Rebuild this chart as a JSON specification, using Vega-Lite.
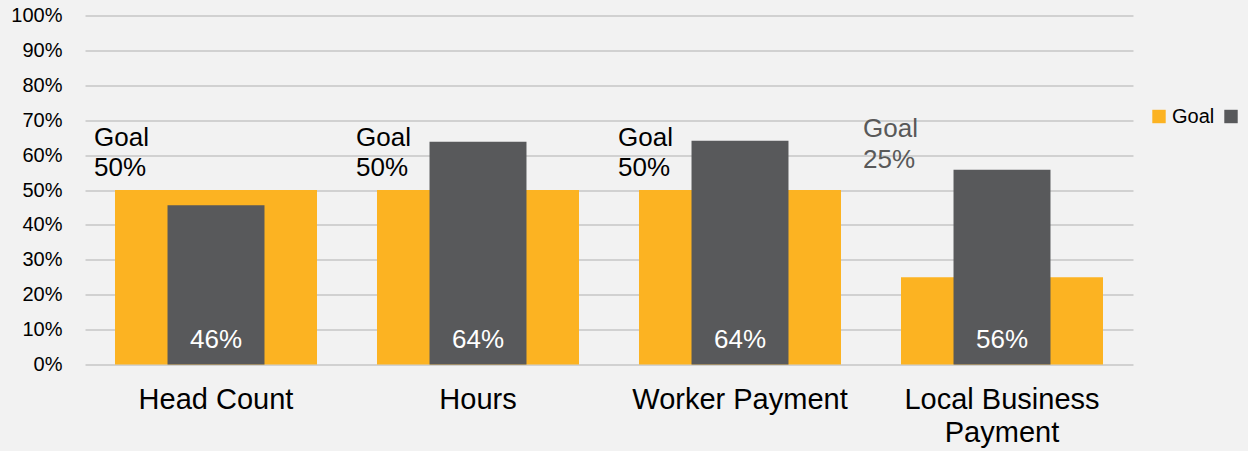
{
  "$schema": "https://vega.github.io/schema/vega-lite/v6.json",
  "width": 1048,
  "height": 349,
  "autosize": "none",
  "padding": {"left": 85, "top": 15.5, "right": 115, "bottom": 86.5},
  "background": "#f2f2f2",
  "config": {
    "view": {"stroke": null},
    "font": "Liberation Sans",
    "axisY": {
      "domain": false,
      "ticks": false,
      "labelOverlap": false,
      "labelFlush": false,
      "labelPadding": 23,
      "labelFontSize": 20,
      "labelColor": "#000000",
      "gridColor": "#c6c6c6",
      "gridWidth": 1.5
    }
  },
  "data": {
    "values": [
      {"category": "Head Count", "goal": 0.5, "actual": 0.456},
      {"category": "Hours", "goal": 0.5, "actual": 0.638},
      {"category": "Worker Payment", "goal": 0.5, "actual": 0.641},
      {"category": "Local Business Payment", "goal": 0.25, "actual": 0.558}
    ]
  },
  "encoding": {
    "x": {
      "field": "category",
      "type": "nominal",
      "sort": null,
      "title": null,
      "scale": {"paddingInner": 0.229, "paddingOuter": 0.1145},
      "axis": {
        "labelAngle": 0,
        "domain": false,
        "ticks": false,
        "tickSize": 0,
        "labelPadding": 44,
        "labelBaseline": "alphabetic",
        "labelFontSize": 29,
        "labelColor": "#000000",
        "labelLineHeight": 33.4,
        "labelLimit": 0,
        "labelOverlap": false,
        "labelExpr": "datum.label == 'Local Business Payment' ? ['Local Business', 'Payment'] : datum.label"
      }
    }
  },
  "layer": [
    {
      "mark": {"type": "bar"},
      "encoding": {
        "y": {
          "field": "goal",
          "type": "quantitative",
          "title": null,
          "scale": {"domain": [0, 1], "nice": false},
          "axis": {"values": [0, 0.1, 0.2, 0.3, 0.4, 0.5, 0.6, 0.7, 0.8, 0.9, 1], "format": ".0%"}
        },
        "color": {
          "datum": "Goal",
          "type": "nominal",
          "scale": {"domain": ["Goal", "Actual"], "range": ["#fcb322", "#58595b"]},
          "legend": {
            "orient": "none",
            "legendX": 1064,
            "legendY": 91,
            "direction": "horizontal",
            "title": null,
            "symbolType": "square",
            "symbolSize": 180,
            "symbolStrokeWidth": 0,
            "labelFontSize": 20,
            "labelColor": "#000000",
            "labelOffset": 3,
            "columnPadding": 6,
            "padding": 0,
            "labelExpr": "datum.label == 'Goal' ? 'Goal' : ''"
          }
        }
      }
    },
    {
      "mark": {"type": "bar", "width": {"band": 0.48}},
      "encoding": {
        "y": {"field": "actual", "type": "quantitative", "title": null,
          "axis": {"values": [0, 0.1, 0.2, 0.3, 0.4, 0.5, 0.6, 0.7, 0.8, 0.9, 1], "format": ".0%"}},
        "color": {"datum": "Actual", "type": "nominal"}
      }
    },
    {
      "transform": [{"filter": "datum.category != 'Local Business Payment'"}],
      "mark": {"type": "text", "text": "Goal", "align": "left", "baseline": "alphabetic", "dx": -122, "dy": -44.5, "fontSize": 26, "color": "#000000"},
      "encoding": {"y": {"field": "goal", "type": "quantitative", "title": null,
        "axis": {"values": [0, 0.1, 0.2, 0.3, 0.4, 0.5, 0.6, 0.7, 0.8, 0.9, 1], "format": ".0%"}}}
    },
    {
      "transform": [{"filter": "datum.category != 'Local Business Payment'"}],
      "mark": {"type": "text", "align": "left", "baseline": "alphabetic", "dx": -122, "dy": -14, "fontSize": 26, "color": "#000000"},
      "encoding": {
        "y": {"field": "goal", "type": "quantitative", "title": null,
          "axis": {"values": [0, 0.1, 0.2, 0.3, 0.4, 0.5, 0.6, 0.7, 0.8, 0.9, 1], "format": ".0%"}},
        "text": {"field": "goal", "type": "quantitative", "format": ".0%"}
      }
    },
    {
      "transform": [{"filter": "datum.category == 'Local Business Payment'"}],
      "mark": {"type": "text", "text": "Goal", "align": "left", "baseline": "alphabetic", "dx": -139, "dy": -140, "fontSize": 26, "color": "#595959"},
      "encoding": {"y": {"field": "goal", "type": "quantitative", "title": null,
        "axis": {"values": [0, 0.1, 0.2, 0.3, 0.4, 0.5, 0.6, 0.7, 0.8, 0.9, 1], "format": ".0%"}}}
    },
    {
      "transform": [{"filter": "datum.category == 'Local Business Payment'"}],
      "mark": {"type": "text", "align": "left", "baseline": "alphabetic", "dx": -139, "dy": -109, "fontSize": 26, "color": "#595959"},
      "encoding": {
        "y": {"field": "goal", "type": "quantitative", "title": null,
          "axis": {"values": [0, 0.1, 0.2, 0.3, 0.4, 0.5, 0.6, 0.7, 0.8, 0.9, 1], "format": ".0%"}},
        "text": {"field": "goal", "type": "quantitative", "format": ".0%"}
      }
    },
    {
      "mark": {"type": "text", "align": "center", "baseline": "alphabetic", "dy": -17, "fontSize": 26, "color": "#ffffff"},
      "encoding": {
        "y": {"datum": 0, "type": "quantitative", "title": null,
          "axis": {"values": [0, 0.1, 0.2, 0.3, 0.4, 0.5, 0.6, 0.7, 0.8, 0.9, 1], "format": ".0%"}},
        "text": {"field": "actual", "type": "quantitative", "format": ".0%"}
      }
    }
  ]
}
